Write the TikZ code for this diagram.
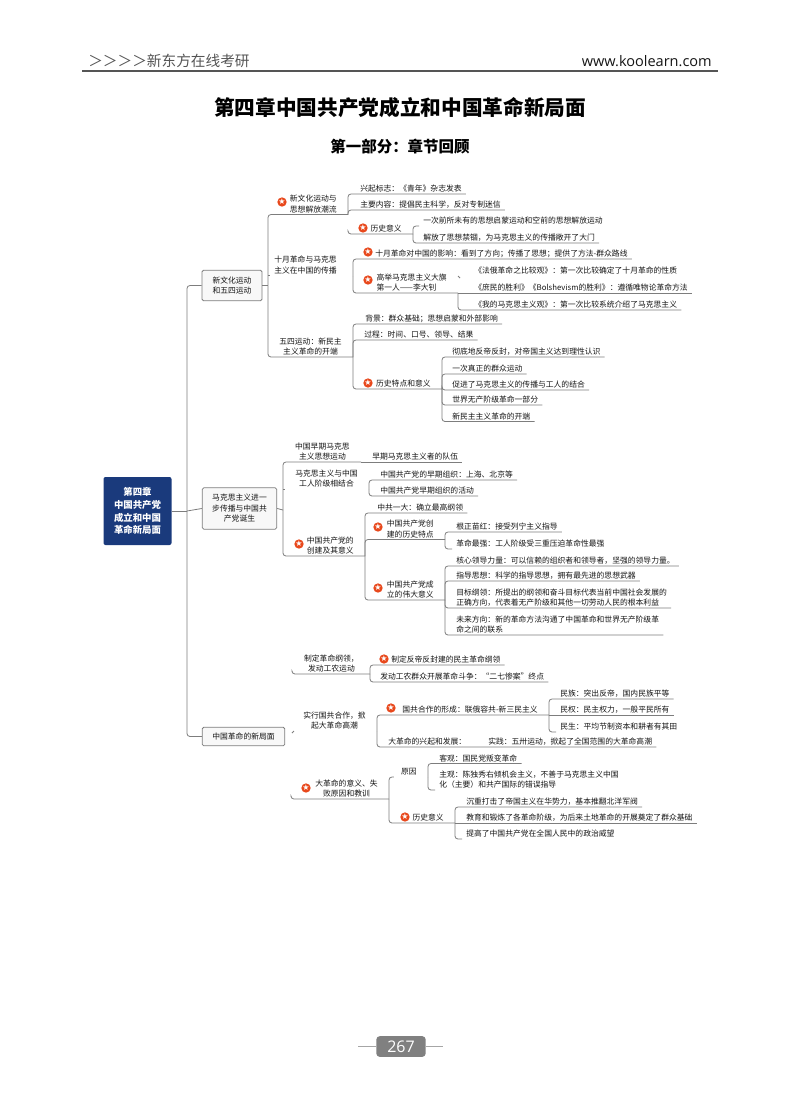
\documentclass[tikz,border=0pt]{standalone}
\usepackage{fontspec}
\setmainfont{Noto Sans CJK SC}
\newfontfamily\latinfont{Open Sans}
\newfontfamily\symfont{DejaVu Sans}
\definecolor{rootblue}{HTML}{1A3A7C}
\definecolor{linkgray}{HTML}{7D7D7D}
\definecolor{boxfill}{HTML}{F8F8F8}
\definecolor{badgered}{HTML}{E8481C}
\definecolor{inkgray}{HTML}{151515}
\definecolor{headgray}{HTML}{555555}
\definecolor{pagegray}{HTML}{808080}
\newcommand{\starmark}{{\symfont\fontsize{6pt}{6pt}\selectfont ★}}
\tikzset{
    mapfont/.style={font=\fontsize{5.85pt}{7.9pt}\selectfont, text=inkgray},
    link/.style={draw=linkgray, line width=0.6pt, rounded corners=2.2pt},
    hub/.style={mapfont, anchor=south east, inner xsep=8.25pt, inner ysep=1pt, align=center},
    leaf/.style={mapfont, anchor=south west, inner xsep=3pt, inner ysep=1pt, align=left},
    topic/.style={mapfont, draw=linkgray, fill=boxfill, rounded corners=1.2pt, line width=0.6pt,
        inner sep=1pt, align=center},
    badge/.style={circle, fill=badgered, text=white, inner sep=0pt, minimum size=7pt},
}
\begin{document}
\begin{tikzpicture}[x=0.75pt, y=-0.75pt]
    \useasboundingbox (0,0) rectangle (800,1114);

    % Page head
    \node[anchor=west, inner sep=0pt, text=headgray, font=\fontsize{11pt}{13pt}\selectfont] (headl) at (88,61) {＞＞＞＞新东方在线考研};
    \node[anchor=east, inner sep=0pt, text=inkgray, font=\latinfont\fontsize{10.9pt}{13pt}\selectfont] (headr) at (712,61) {www.koolearn.com};
    \coordinate (rulel) at (82,71);
    \coordinate (ruler) at (718,71);
    \draw[headgray, line width=1.1pt] (rulel) -- (ruler);
    \node[text=black, font=\bfseries\fontsize{15.5pt}{18pt}\selectfont] (title) at (400,108) {第四章中国共产党成立和中国革命新局面};
    \node[text=black, font=\bfseries\fontsize{11.6pt}{14pt}\selectfont] (part) at (400,147) {第一部分：章节回顾};

    % Root and first level
    \node[fill=rootblue, rounded corners=1.5pt, text=white, minimum width=51pt, minimum height=51pt, inner sep=0pt,
        align=center, font=\bfseries\fontsize{7.05pt}{9.6pt}\selectfont] (root) at (137.5,511) {第四章\\中国共产党\\成立和中国\\革命新局面};
    \node[topic, minimum width=45pt, minimum height=23pt] (xinwen) at (232,285.5) {新文化运动\\和五四运动};
    \node[topic, minimum width=56pt, minimum height=31pt] (makesi) at (239.5,508.5) {马克思主义进一\\步传播与中国共\\产党诞生};
    \node[topic, minimum width=62pt, minimum height=14pt] (geming) at (243.5,736.5) {中国革命的新局面};
    \coordinate (rootj) at (187,511);
    \draw[link] (root.east) -- (rootj);
    \draw[link] (rootj) |- (xinwen.west);
    \draw[link] (rootj) -- (makesi.west);
    \draw[link] (rootj) |- (geming.west);

    % Xinwenhua branch
    \coordinate (xinj) at (268,285.5);
    \draw[link] (xinwen.east) -- (xinj);
    \node[hub] (sichao) at (348,214.5) {新文化运动与\\思想解放潮流};
    \node[badge] (bsichao) at (282,202) {\starmark};
    \node[leaf] (xingqi) at (356,194) {兴起标志：《青年》杂志发表};
    \node[leaf] (neirong) at (356,210) {主要内容：提倡民主科学，反对专制迷信};
    \draw[link] (xinj) |- (sichao.south east);
    \draw[link] (sichao.south east) |- (xingqi.south east);
    \draw[link] (sichao.south east) |- (neirong.south east);

    \node[hub] (shiyue) at (348,275.5) {十月革命与马克思\\主义在中国的传播};
    \draw[link] (xinj |- shiyue.south) -- +(2,0);
    \coordinate (lishij) at (348,232);
    \node[hub] (lishi) at (413,234) {历史意义};
    \node[badge] (blishi) at (363,228) {\starmark};
    \node[leaf] (yici) at (419,226) {一次前所未有的思想启蒙运动和空前的思想解放运动};
    \node[leaf] (jiefang) at (419,243) {解放了思想禁锢，为马克思主义的传播敞开了大门};
    \draw[link] (lishij) |- (lishi.south east);
    \draw[link] (lishi.south east) |- (yici.south west);
    \draw[link] (lishi.south east) |- (jiefang.south east);
    \coordinate (chuanj) at (353,276);
    \node[leaf] (yingxiang) at (371,259) {十月革命对中国的影响：看到了方向；传播了思想；提供了方法-群众路线};
    \node[badge] (byingxiang) at (368,252) {\starmark};
    \node[hub, align=left] (daqi) at (458,293) {高举马克思主义大旗\\第一人——李大钊};
    \node[badge] (bdaqi) at (368,280) {\starmark};
    \draw[link] (chuanj) |- (yingxiang.south east);
    \draw[link] (chuanj) |- (daqi.south east);
    \node[leaf] (faer) at (470,276) {《法俄革命之比较观》：第一次比较确定了十月革命的性质};
    \node[leaf] (shumin) at (470,293) {《庶民的胜利》《Bolshevism的胜利》：遵循唯物论革命方法};
    \node[leaf] (wode) at (470,310) {《我的马克思主义观》：第一次比较系统介绍了马克思主义};
    \draw[link] (daqi.south east |- faer.south) -- +(2,2);
    \draw[link] (daqi.south east) -- (shumin.south east);
    \draw[link] (daqi.south east) |- (wode.south east);

    \node[hub] (wusi) at (353,357) {五四运动：新民主\\主义革命的开端};
    \draw[link] (xinj) |- (wusi.south east);
    \node[leaf] (beijing) at (361,324) {背景：群众基础；思想启蒙和外部影响};
    \node[leaf] (guocheng) at (360,340) {过程：时间、口号、领导、结果};
    \node[hub] (tedian) at (442,389) {历史特点和意义};
    \node[badge] (btedian) at (368,383) {\starmark};
    \draw[link] (wusi.south east) |- (beijing.south east);
    \draw[link] (wusi.south east) |- (guocheng.south east);
    \draw[link] (wusi.south east) |- (tedian.south east);
    \node[leaf] (chedi) at (448,357) {彻底地反帝反封，对帝国主义达到理性认识};
    \node[leaf] (qunzhong) at (448,374) {一次真正的群众运动};
    \node[leaf] (cujin) at (448,390) {促进了马克思主义的传播与工人的结合};
    \node[leaf] (shijie) at (448,405) {世界无产阶级革命一部分};
    \node[leaf] (kaiduan) at (448,421.5) {新民主主义革命的开端};
    \draw[link] (tedian.south east) |- (chedi.south east);
    \draw[link] (tedian.south east) |- (qunzhong.south east);
    \draw[link] (tedian.south east) |- (cujin.south east);
    \draw[link] (tedian.south east) |- (shijie.south east);
    \draw[link] (tedian.south east) |- (kaiduan.south east);

    % Makesi branch
    \coordinate (makj) at (283,510);
    \draw[link] (makesi.east) -- (makj);
    \node[hub] (zaoqi) at (361,462) {中国早期马克思\\主义思想运动};
    \node[leaf] (duiwu) at (368,462) {早期马克思主义者的队伍};
    \draw[link] (makj) |- (zaoqi.south east);
    \draw[link] (zaoqi.south east) -- (duiwu.south east);
    \node[hub] (jiehe) at (369,489) {马克思主义与中国\\工人阶级相结合};
    \draw[link] (makj |- jiehe.south) -- +(2,0);
    \node[leaf] (zuzhi) at (376,480) {中国共产党的早期组织：上海、北京等};
    \node[leaf] (huodong) at (376,496) {中国共产党早期组织的活动};
    \draw[link] (jiehe.south east) |- (zuzhi.south east);
    \draw[link] (jiehe.south east) |- (huodong.south east);
    \node[hub] (chuangjian) at (365,556) {中国共产党的\\创建及其意义};
    \node[badge] (bchuangjian) at (299,544) {\starmark};
    \draw[link] (makj) |- (chuangjian.south east);
    \node[leaf] (yida) at (373,513) {中共一大：确立最高纲领};
    \node[hub, align=left] (tezheng) at (445,539.5) {中国共产党创\\建的历史特点};
    \node[badge] (btezheng) at (378,527) {\starmark};
    \node[hub, align=left] (yiyi) at (445,600) {中国共产党成\\立的伟大意义};
    \node[badge] (byiyi) at (378,588) {\starmark};
    \draw[link] (chuangjian.south east) |- (yida.south east);
    \draw[link] (chuangjian.south east) |- (tezheng.south east);
    \draw[link] (chuangjian.south east) |- (yiyi.south east);
    \node[leaf] (genzheng) at (452,532) {根正苗红：接受列宁主义指导};
    \node[leaf] (zuiqiang) at (452,549) {革命最强：工人阶级受三重压迫革命性最强};
    \draw[link] (tezheng.south east) |- (genzheng.south east);
    \draw[link] (tezheng.south east) |- (zuiqiang.south west);
    \node[leaf] (hexin) at (452,566) {核心领导力量：可以信赖的组织者和领导者，坚强的领导力量。};
    \node[leaf] (zhidao) at (452,581) {指导思想：科学的指导思想，拥有最先进的思想武器};
    \node[leaf] (mubiao) at (452,608) {目标纲领：所提出的纲领和奋斗目标代表当前中国社会发展的\\正确方向，代表着无产阶级和其他一切劳动人民的根本利益};
    \node[leaf] (weilai) at (452,635) {未来方向：新的革命方法沟通了中国革命和世界无产阶级革\\命之间的联系};
    \draw[link] (yiyi.south east) |- (hexin.south east);
    \draw[link] (yiyi.south east) |- (zhidao.south east);
    \draw[link] (yiyi.south east) |- (mubiao.south east);
    \draw[link] (yiyi.south east) |- (weilai.south east);

    % Geming branch
    \coordinate (zhij) at (292,672);
    \node[hub] (gangling) at (370,674) {制定革命纲领，\\发动工农运动};
    \draw[link] (zhij) |- (gangling.south east);
    \node[leaf] (fandi) at (387,665) {制定反帝反封建的民主革命纲领};
    \node[badge] (bfandi) at (384,659) {\starmark};
    \node[leaf] (erqi) at (376,682) {发动工农群众开展革命斗争：“二七惨案”终点};
    \draw[link] (gangling.south east) |- (fandi.south east);
    \draw[link] (gangling.south east) |- (erqi.south east);
    \node[hub] (guogong) at (377,731) {实行国共合作，掀\\起大革命高潮};
    \coordinate (gongj) at (292,733);
    \draw[link] (gongj) -- +(2,-2);
    \node[hub] (xingcheng) at (549,715) {国共合作的形成：联俄容共-新三民主义};
    \node[badge] (bxingcheng) at (391,708) {\starmark};
    \node[leaf] (fazhan) at (384,747) {大革命的兴起和发展：\hspace{16.5pt}实践：五卅运动，掀起了全国范围的大革命高潮};
    \draw[link] (guogong.south east) |- (xingcheng.south east);
    \draw[link] (guogong.south east) |- (fazhan.south east);
    \node[leaf] (minzu) at (556,699) {民族：突出反帝，国内民族平等};
    \node[leaf] (minquan) at (556,715) {民权：民主权力，一般平民所有};
    \node[leaf] (minsheng) at (556,732) {民生：平均节制资本和耕者有其田};
    \draw[link] (xingcheng.south east) |- (minzu.south east);
    \draw[link] (xingcheng.south east) -- (minquan.south east);
    \draw[link] (xingcheng.south east) |- (minsheng.south west);

    \coordinate (dagej) at (291,797);
    \node[hub] (dage) at (389,799) {大革命的意义、失\\败原因和教训};
    \node[badge] (bdage) at (306,788) {\starmark};
    \draw[link] (dagej) |- (dage.south east);
    \node[hub] (yuanyin) at (428,777) {原因};
    \node[hub] (lishiyi) at (455,823) {历史意义};
    \node[badge] (blishiyi) at (405,817) {\starmark};
    \draw[link] (dage.south east) |- ([xshift=3pt]yuanyin.south west);
    \draw[link] (dage.south east) |- (lishiyi.south east);
    \node[leaf] (keguan) at (435,763.5) {客观：国民党叛变革命};
    \node[leaf] (zhuguan) at (435,790) {主观：陈独秀右倾机会主义，不善于马克思主义中国\\化（主要）和共产国际的错误指导};
    \draw[link] (yuanyin.south east) |- (keguan.south east);
    \draw[link] (yuanyin.south east) |- (zhuguan.south west);
    \node[leaf] (daji) at (462,807) {沉重打击了帝国主义在华势力，基本推翻北洋军阀};
    \node[leaf] (jiaoyu) at (462,823) {教育和锻炼了各革命阶级，为后来土地革命的开展奠定了群众基础};
    \node[leaf] (tigao) at (462,839) {提高了中国共产党在全国人民中的政治威望};
    \draw[link] (lishiyi.south east) |- (daji.south east);
    \draw[link] (lishiyi.south east) -- (jiaoyu.south east);
    \draw[link] (lishiyi.south east) |- (tigao.south west);

    % Page number
    \node[fill=pagegray, rounded corners=2.5pt, text=white, minimum width=37pt, minimum height=15.5pt, inner sep=0pt,
        font=\latinfont\fontsize{12pt}{14pt}\selectfont] (pageno) at (401,1046.5) {267};
    \coordinate (pagel) at (358,1046.5);
    \coordinate (pager) at (443,1046.5);
    \draw[gray!70, line width=0.7pt] (pagel) -- (pageno.west);
    \draw[gray!70, line width=0.7pt] (pageno.east) -- (pager);
\end{tikzpicture}
\end{document}
